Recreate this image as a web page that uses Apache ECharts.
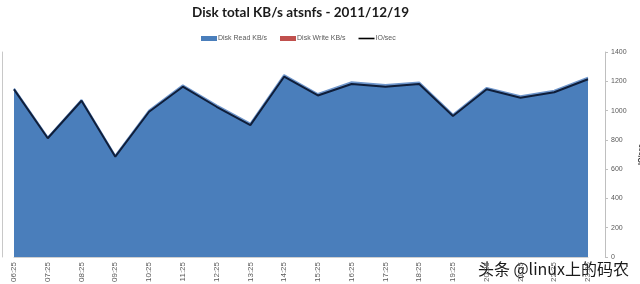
<!DOCTYPE html>
<html><head><meta charset="utf-8">
<script src="https://cdn.jsdelivr.net/npm/echarts@6/dist/echarts.min.js"></script>
<style>html,body{margin:0;padding:0;background:#fff}#c{width:640px;height:284px}</style>
</head><body><div id="c"></div>
<script>
const categories = ["06:25","07:25","08:25","09:25","10:25","11:25","12:25","13:25","14:25","15:25","16:25","17:25","18:25","19:25","20:25","21:25","22:25","23:25"];
const diskRead = [1150, 815, 1072, 690, 1000, 1172, 1036, 910, 1242, 1113, 1193, 1175, 1192, 972, 1155, 1098, 1135, 1225];
const diskWrite = [0,0,0,0,0,0,0,0,0,0,0,0,0,0,0,0,0,0];
const ioSec = [1145, 811, 1067, 685, 992, 1163, 1026, 901, 1231, 1103, 1181, 1163, 1181, 963, 1145, 1088, 1125, 1214];
const ioTicks = [0,200,400,600,800,1000,1200,1400];

const chart = echarts.init(document.getElementById('c'), null, {renderer:'canvas'});
const gray = '#595959';
chart.setOption({
  animation:false,
  backgroundColor:'#fff',
  title:{text:'Disk total KB/s atsnfs - 2011/12/19', left:187, top:1,
    textStyle:{fontFamily:'Lato, sans-serif', fontWeight:'bold', fontSize:13.5, color:'#1a1a1a'}},
  legend:{top:30, left:196, itemWidth:16, itemHeight:5, itemGap:13, symbolKeepAspect:true,
    textStyle:{fontSize:7, color:gray, fontFamily:'Liberation Sans', padding:[0,0,0,-4]},
    data:[{name:'Disk Read KB/s', icon:'rect'},{name:'Disk Write KB/s', icon:'rect'},
          {name:'IO/sec', icon:'path://M0,0H16V1.6H0Z', itemStyle:{color:'#000'}}]},
  grid:{left:14, right:52, top:52, bottom:27, outerBoundsMode:'none', containLabel:false},
  xAxis:{type:'category', boundaryGap:false, data:categories,
    axisLine:{lineStyle:{color:'#d0d0d0'}}, axisTick:{show:false},
    axisLabel:{rotate:90, fontSize:8, color:gray, margin:5, interval:0}},
  yAxis:[
    {type:'value', min:0, max:1400, interval:200, position:'left', offset:12,
      axisLine:{show:true, lineStyle:{color:'#c8c8c8'}}, axisTick:{show:false},
      axisLabel:{show:false}, splitLine:{show:false}},
    {type:'value', min:0, max:1400, interval:200, position:'right', offset:17,
      name:'IO/sec', nameLocation:'middle', nameRotate:90, nameGap:30,
      nameTextStyle:{fontSize:7, color:'#333', fontWeight:'bold'},
      axisLine:{show:true, lineStyle:{color:'#bfbfbf'}}, axisTick:{show:true, length:3, inside:false, lineStyle:{color:'#bfbfbf'}},
      axisLabel:{fontSize:7, color:gray, margin:6, formatter:v=>ioTicks.includes(v)?String(v):''}, splitLine:{show:false}}
  ],
  series:[
    {name:'Disk Read KB/s', type:'line', yAxisIndex:0, data:diskRead, symbol:'none',
      lineStyle:{color:'#7097cc', width:2}, itemStyle:{color:'#4a7ebb'},
      areaStyle:{color:'#4a7ebb', opacity:1}, z:1},
    {name:'Disk Write KB/s', type:'line', yAxisIndex:0, data:diskWrite, symbol:'none',
      lineStyle:{width:0, opacity:0}, itemStyle:{color:'#c0504d'},
      areaStyle:{color:'#c0504d', opacity:0}, z:2},
    {name:'IO/sec', type:'line', yAxisIndex:1, data:ioSec, symbol:'none',
      lineStyle:{color:'#0f1e3a', width:2}, itemStyle:{color:'#000'}, z:3}
  ],
  graphic:[{type:'text', right:10, bottom:6,
    style:{text:'头条 @linux上的码农', fontFamily:'Noto Sans CJK SC', fontSize:16, fill:'#1a1a1a', stroke:'#fff', lineWidth:2}}]
});
</script></body></html>
